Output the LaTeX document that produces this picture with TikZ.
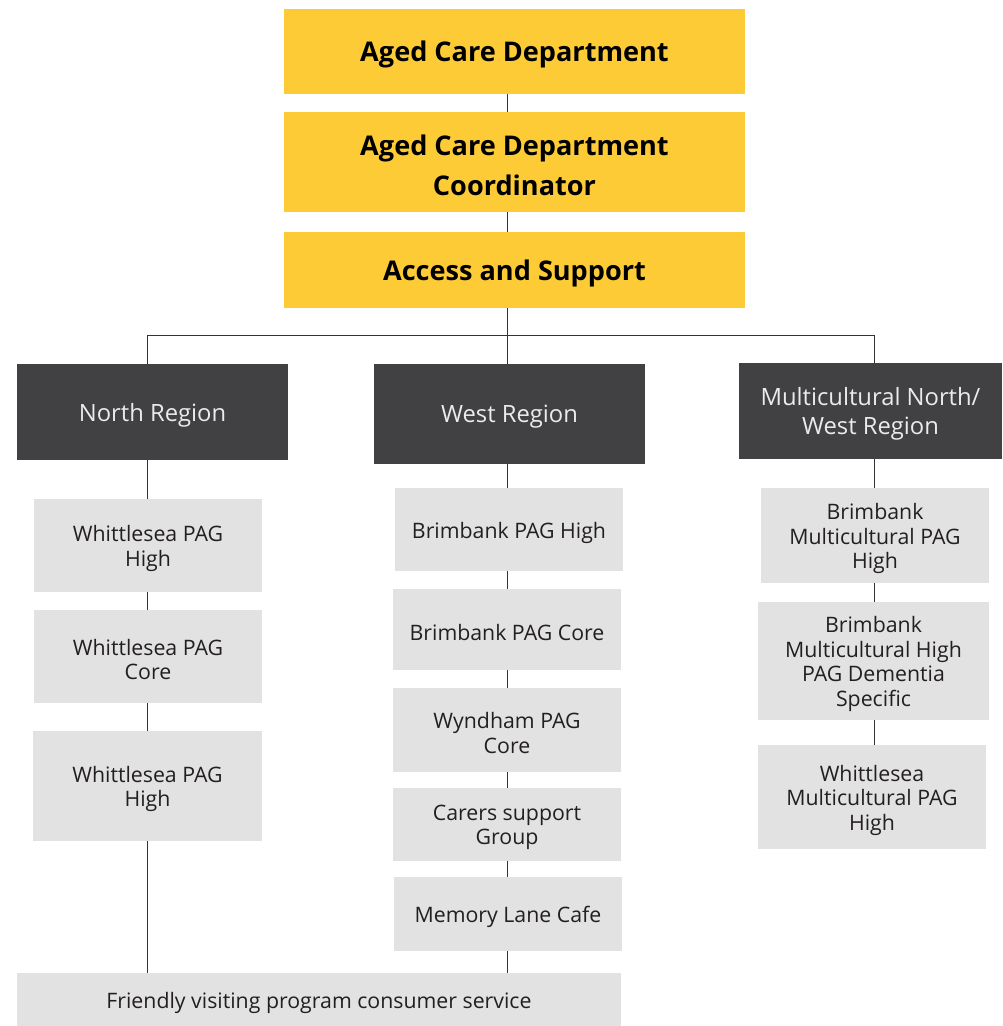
\documentclass[tikz,border=0pt]{standalone}
\usepackage{fontspec}
\setmainfont{Open Sans}
\definecolor{ylw}{HTML}{FDCB35}
\definecolor{drk}{HTML}{414042}
\definecolor{lgr}{HTML}{E1E2E1}
\definecolor{txt}{HTML}{231F20}
\definecolor{ln}{HTML}{333333}
\tikzset{
  ybox/.style={fill=ylw},
  dbox/.style={fill=drk},
  gbox/.style={fill=lgr},
  ytxt/.style={inner sep=0pt, align=center, text=black, font=\fontsize{27.1}{40}\selectfont\bfseries},
  dtxt/.style={inner sep=0pt, align=center, text=white!92!black, font=\fontsize{23.8}{29}\selectfont},
  gtxt/.style={inner sep=0pt, align=center, text=txt, font=\fontsize{21.3}{24.5}\selectfont},
  conn/.style={draw=ln, line width=1pt}
}
% \bx{name}{kind}{x1}{y1}{x2}{y2}{text}
\newcommand{\bx}[7]{%
  \node[#2box, inner sep=0pt, minimum width={(#5-#3)*1pt}, minimum height={(#6-#4)*1pt}] (#1) at ({(#3+#5)/2},{(#4+#6)/2}) {};
  \node[#2txt] (#1-t) at ([yshift=-3pt]#1.center) {#7};}
\begin{document}
\begin{tikzpicture}[x=1pt,y=-1pt]
\useasboundingbox (0,0) rectangle (1002,1026);
% line columns
\coordinate (cN) at (147.7,0);
\coordinate (cW) at (507.7,0);
\coordinate (cM) at (874,0);
\coordinate (bar) at (0,335);
% top boxes
\bx{ac}{y}{284}{9}{745}{94}{Aged Care Department}
\bx{acc}{y}{284}{112}{745}{212}{Aged Care Department\\Coordinator}
\bx{as}{y}{284}{232}{745}{308}{Access and Support}
% regions
\bx{nr}{d}{17}{364}{288}{460}{North Region}
\bx{wr}{d}{374}{364}{645}{464}{West Region}
\bx{mr}{d}{739}{363}{1002}{459}{Multicultural North/\\West Region}
% north
\bx{n1}{g}{34}{499}{262}{592}{Whittlesea PAG\\High}
\bx{n2}{g}{34}{610}{262}{703}{Whittlesea PAG\\Core}
\bx{n3}{g}{33}{731}{262}{841}{Whittlesea PAG\\High}
% west
\bx{w1}{g}{395}{488}{623}{571}{Brimbank PAG High}
\bx{w2}{g}{393}{589}{621}{670}{Brimbank PAG Core}
\bx{w3}{g}{393}{688}{621}{772}{Wyndham PAG\\Core}
\bx{w4}{g}{393}{788}{621}{861}{Carers support\\Group}
\bx{w5}{g}{394}{877}{622}{951}{Memory Lane Cafe}
% multicultural
\bx{m1}{g}{761}{488}{989}{583}{Brimbank\\Multicultural PAG\\High}
\bx{m2}{g}{758}{602}{989}{720}{Brimbank\\Multicultural High\\PAG Dementia\\Specific}
\bx{m3}{g}{758}{745}{986}{849}{Whittlesea\\Multicultural PAG\\High}
% bottom
\bx{fv}{g}{17}{973}{621}{1026}{Friendly visiting program consumer service}
% connectors
\draw[conn] (ac.south -| cW) -- (acc.north -| cW);
\draw[conn] (acc.south -| cW) -- (as.north -| cW);
\draw[conn] (as.south -| cW) -- (wr.north -| cW);
\draw[conn] (nr.north -| cN) -- (bar -| cN) -- (bar -| cM) -- (mr.north -| cM);
\draw[conn] (nr.south -| cN) -- (n1.north -| cN);
\draw[conn] (n1.south -| cN) -- (n2.north -| cN);
\draw[conn] (n2.south -| cN) -- (n3.north -| cN);
\draw[conn] (n3.south -| cN) -- (fv.north -| cN);
\draw[conn] (wr.south -| cW) -- (w1.north -| cW);
\draw[conn] (w1.south -| cW) -- (w2.north -| cW);
\draw[conn] (w2.south -| cW) -- (w3.north -| cW);
\draw[conn] (w3.south -| cW) -- (w4.north -| cW);
\draw[conn] (w4.south -| cW) -- (w5.north -| cW);
\draw[conn] (w5.south -| cW) -- (fv.north -| cW);
\draw[conn] (mr.south -| cM) -- (m1.north -| cM);
\draw[conn] (m1.south -| cM) -- (m2.north -| cM);
\draw[conn] (m2.south -| cM) -- (m3.north -| cM);
\end{tikzpicture}
\end{document}
